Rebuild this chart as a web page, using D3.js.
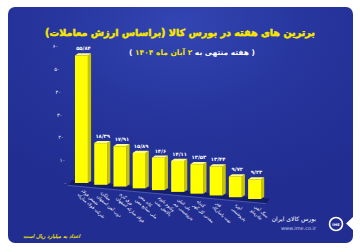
<!DOCTYPE html>
<html>
<head>
<meta charset="utf-8">
<script src="https://cdn.jsdelivr.net/npm/d3@7"></script>
<style>
  body { margin: 0; background: #fff; }
  text { font-family: "DejaVu Sans", sans-serif; }
</style>
</head>
<body>
<div id="main"></div>
<script>
// categories (two lines each) and values in billion rials
const categories = [
  ["شمش فولاد", "شرکت فولاد مبارکه"],
  ["میلگرد", "ذوب آهن اصفهان"],
  ["ورق گرم", "فولاد مبارکه اصفهان"],
  ["کاتد مس", "ملی صنایع مس"],
  ["وکیوم باتوم", "پالایش نفت"],
  ["پلی اتیلن", "پتروشیمی جم"],
  ["گندله", "معدنی گل گهر"],
  ["قیر", "نفت پاسارگاد"],
  ["اوره", "پتروشیمی"],
  ["سنگ آهن", "چادرملو"]
]
const values = [55.84, 18.39, 17.91, 15.89, 14.6, 14.11, 13.53, 13.44, 9.72, 9.23]
const yTicks = [0, 10, 20, 30, 40, 50, 60]

const W = 360, H = 252
const fa = s => String(s).replace(/\d/g, d => "۰۱۲۳۴۵۶۷۸۹"[d])
const faNum = v => fa(v.toFixed(2).replace(/0+$/, "").replace(/\.$/, "").replace(".", "/"))

const svg = d3.select("#main").append("svg").attr("width", W).attr("height", H)
const defs = svg.append("defs")
const grad = defs.append("radialGradient").attr("id", "bg").attr("cx", "50%").attr("cy", "8%").attr("r", "75%")
grad.append("stop").attr("offset", "0%").attr("stop-color", "#3245b2")
grad.append("stop").attr("offset", "55%").attr("stop-color", "#26349c")
grad.append("stop").attr("offset", "100%").attr("stop-color", "#212d90")

// panel
svg.append("rect").attr("x", 8).attr("y", 7).attr("width", 345).attr("height", 236).attr("rx", 7).attr("fill", "url(#bg)")
// notch on the right
svg.append("path").attr("d", "M354,216 L346,223.5 L354,231 Z").attr("fill", "#fff")

// title
const title = svg.append("text").attr("x", 180).attr("y", 36).attr("text-anchor", "middle")
  .attr("fill", "#f7e600").attr("stroke", "#f7e600").attr("stroke-width", 0.5)
  .attr("font-weight", "bold").attr("font-size", 13)
  .text("برترین های هفته در بورس کالا (براساس ارزش معاملات)")
let tl = title.node().getComputedTextLength()
title.attr("font-size", 13 * 270 / tl)

const sub = svg.append("text").attr("x", 192).attr("y", 55).attr("text-anchor", "middle")
  .attr("font-weight", "bold").attr("font-size", 7.5).attr("direction", "rtl")
sub.append("tspan").attr("fill", "#fff").text("( هفته منتهی به ")
sub.append("tspan").attr("fill", "#f7e600").text("۲ آبان ماه ۱۴۰۴")
sub.append("tspan").attr("fill", "#fff").text(" )")

// scales
const x = d3.scaleBand().domain(d3.range(values.length)).range([75, 261]).paddingInner(0.33).paddingOuter(0)
const y = d3.scaleLinear().domain([0, 60]).range([0, 137])
const x0 = x(0), x1 = x(values.length - 1)
const baseY = d3.scaleLinear().domain([x0, x1]).range([183, 199])
const persp = d3.scaleLinear().domain([x0, x1]).range([1, 0.93])
const depth = 3.2, rise = 2.2

// y axis labels (slanted)
svg.append("g").selectAll("text").data(yTicks).enter().append("text")
  .attr("x", d => 66.5 - d * 0.14)
  .attr("y", d => 183 - y(d) + 2)
  .attr("text-anchor", "end").attr("fill", "#fff").attr("font-size", 5)
  .text(d => fa(d))

// floor
const fx0 = 68, fx1 = 266
const floor = svg.append("g")
floor.append("path")
  .attr("d", `M${fx0 + 4},${baseY(fx0) - 2} L${fx1 + 4},${baseY(fx1) - 2} L${fx1},${baseY(fx1) + 3} L${fx0},${baseY(fx0) + 3} Z`)
  .attr("fill", "#141d6a")
floor.append("line").attr("x1", fx0).attr("y1", baseY(fx0) + 3).attr("x2", fx1).attr("y2", baseY(fx1) + 3)
  .attr("stroke", "#6a78cc").attr("stroke-width", 0.6)

// bars
const bars = svg.append("g").selectAll("g").data(values).enter().append("g")
bars.each(function (v, i) {
  const g = d3.select(this)
  const bx = x(i), bw = x.bandwidth()
  const b = baseY(bx), h = y(v) * persp(bx), t = b - h
  g.append("path").attr("d", `M${bx + bw},${t} L${bx + bw + depth},${t - rise} L${bx + bw + depth},${b - rise} L${bx + bw},${b} Z`)
    .attr("fill", "#c9c400")
  g.append("path").attr("d", `M${bx},${t} L${bx + depth},${t - rise} L${bx + bw + depth},${t - rise} L${bx + bw},${t} Z`)
    .attr("fill", "#ffff8a")
  g.append("rect").attr("x", bx).attr("y", t).attr("width", bw).attr("height", h).attr("fill", "#ffff00")
  g.append("text").attr("x", bx + bw / 2 + 2).attr("y", t - 5).attr("text-anchor", "middle")
    .attr("fill", "#fff").attr("font-size", 5.2).attr("font-weight", "bold")
    .text(faNum(v))
})

// category labels, rotated
const labs = svg.append("g").selectAll("g").data(categories).enter().append("g")
  .attr("transform", (d, i) => `translate(${x(i) + 6},${baseY(x(i)) + 8}) rotate(42)`)
labs.selectAll("text").data(d => d).enter().append("text")
  .attr("x", 0).attr("y", (d, j) => j * 5.5)
  .attr("fill", "#fff").attr("font-size", 4.3)
  .text(d => d)

// footer
svg.append("text").attr("x", 80).attr("y", 238).attr("text-anchor", "start")
  .attr("fill", "#f7e600").attr("font-size", 5.2).attr("font-weight", "bold").attr("font-style", "italic")
  .attr("direction", "rtl")
  .text("اعداد به میلیارد ریال است")

// logo
const logo = svg.append("g")
logo.append("circle").attr("cx", 336).attr("cy", 224).attr("r", 6.5).attr("fill", "none").attr("stroke", "#fff").attr("stroke-width", 1.6)
logo.append("text").attr("x", 336).attr("y", 225.8).attr("text-anchor", "middle").attr("fill", "#fff")
  .attr("font-size", 3.6).attr("font-weight", "bold").text("IME")
logo.append("text").attr("x", 316).attr("y", 221).attr("text-anchor", "start").attr("fill", "#fff")
  .attr("font-size", 6).attr("direction", "rtl").text("بورس کالای ایران")
logo.append("text").attr("x", 316).attr("y", 230).attr("text-anchor", "end").attr("fill", "#c9cfee")
  .attr("font-size", 5).text("www.ime.co.ir")
</script>
</body>
</html>
